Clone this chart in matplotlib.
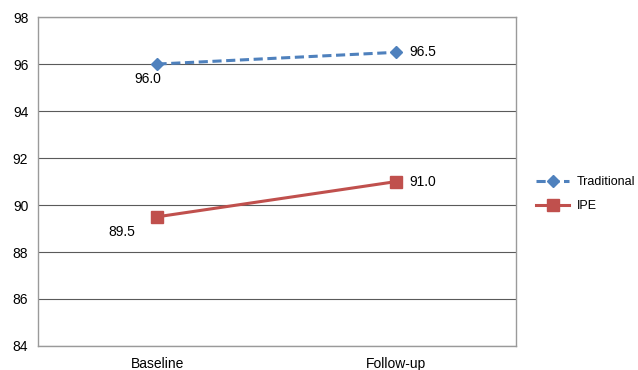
import matplotlib
matplotlib.use("Agg")
import matplotlib.pyplot as plt
from matplotlib.lines import Line2D

categories = ["Baseline", "Follow-up"]
traditional = [96.0, 96.5]
ipe = [89.5, 91.0]
y_ticks = [84, 86, 88, 90, 92, 94, 96, 98]

plt.rcParams["font.family"] = ["Liberation Sans", "DejaVu Sans"]
FS = 10

fig = plt.figure(figsize=(6.38, 3.70), dpi=100)
ax = fig.add_axes([0.0596, 0.0649, 0.749, 0.889])

x = [0.5, 1.5]
blue = "#4F81BD"
red = "#C0504D"

for y in y_ticks:
    ax.axhline(y, color="#5a5a5a", lw=0.8, zorder=1)

ax.plot(x, traditional, color=blue, lw=2.2, ls=(0, (3, 1.5)), marker="D",
        ms=6, mfc=blue, mec=blue, zorder=3)
ax.plot(x, ipe, color=red, lw=2.2, marker="s", ms=8, mfc=red, mec=red, zorder=3)

# value labels
ax.annotate(f"{traditional[0]:.1f}", (x[0], traditional[0]), xytext=(-7, -11),
            textcoords="offset points", ha="center", va="center", fontsize=FS)
ax.annotate(f"{traditional[1]:.1f}", (x[1], traditional[1]), xytext=(9, 0),
            textcoords="offset points", ha="left", va="center", fontsize=FS)
ax.annotate(f"{ipe[0]:.1f}", (x[0], ipe[0]), xytext=(-16, -11),
            textcoords="offset points", ha="right", va="center", fontsize=FS)
ax.annotate(f"{ipe[1]:.1f}", (x[1], ipe[1]), xytext=(9, 0),
            textcoords="offset points", ha="left", va="center", fontsize=FS)

ax.set_xlim(0, 2)
ax.set_ylim(84, 98)
ax.set_yticks(y_ticks)
ax.set_yticklabels([str(v) for v in y_ticks], fontsize=FS)
ax.set_xticks(x)
ax.set_xticklabels(categories, fontsize=FS)
ax.tick_params(axis="y", length=0, pad=7)
ax.tick_params(axis="x", length=0, pad=8)
for s in ax.spines.values():
    s.set_color("#9a9a9a")
    s.set_linewidth(1.0)

handles = [
    Line2D([], [], color=blue, lw=2.2, ls=(0, (3, 1.5)), marker="D", ms=6),
    Line2D([], [], color=red, lw=2.2, marker="s", ms=8),
]
fig.legend(handles, ["Traditional", "IPE"], loc="center left",
           bbox_to_anchor=(0.833, 0.475), frameon=False, fontsize=9,
           handlelength=2.6, handletextpad=0.6, labelspacing=0.95,
           borderaxespad=0)

fig.savefig("out.png", dpi=100, facecolor="white")
